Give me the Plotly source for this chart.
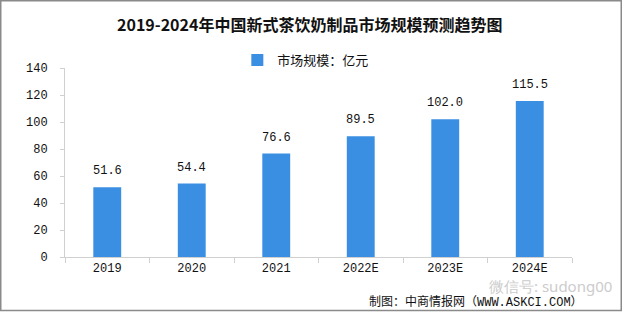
import plotly.graph_objects as go

categories = ["2019", "2020", "2021", "2022E", "2023E", "2024E"]
values = [51.6, 54.4, 76.6, 89.5, 102.0, 115.5]
value_labels = ["51.6", "54.4", "76.6", "89.5", "102.0", "115.5"]
series_name = "市场规模：亿元"
title_text = "2019-2024年中国新式茶饮奶制品市场规模预测趋势图"
source_text = "制图：中商情报网（WWW.ASKCI.COM）"
watermark_text = "微信号: sudong00"

W, H = 623, 313
L, R, T, B = 65, 51, 68, 56
BAR = "#3b8fe3"
FONT = "Liberation Mono, Noto Sans CJK SC, monospace"

fig = go.Figure()
fig.add_trace(go.Bar(
    x=categories, y=values, name=series_name,
    marker=dict(color=BAR, line=dict(width=0)),
    showlegend=True,
))

for i, (v, t) in enumerate(zip(values, value_labels)):
    fig.add_annotation(x=i, y=v, text=t, showarrow=False, yanchor="bottom",
                       yshift=7, font=dict(family=FONT, size=12, color="#111"))

pw, ph = W - L - R, H - T - B

fig.add_annotation(xref="paper", yref="paper", x=(309 - L) / pw, y=1, yshift=44,
                   xanchor="center", yanchor="middle",
                   text="<b>" + title_text + "</b>", showarrow=False,
                   font=dict(family="Noto Sans CJK SC, sans-serif", size=16, color="#111"))

fig.add_annotation(xref="paper", yref="paper", x=(476 - L) / pw, y=0, yshift=-45,
                   xanchor="center", yanchor="middle", text=source_text, showarrow=False,
                   font=dict(family=FONT, size=12, color="#111"))
fig.add_annotation(xref="paper", yref="paper", x=(550 - L) / pw, y=0, yshift=-29,
                   xanchor="center", yanchor="middle", text=watermark_text, showarrow=False,
                   font=dict(family="Noto Sans, sans-serif", size=15, color="#cccccc"))

fig.add_shape(type="rect", xref="paper", yref="paper",
              x0=(0.75 - L) / pw, x1=(W - 1.75 - L) / pw,
              y0=-(B - 2.5) / ph,
              y1=1 + (T - 0.75) / ph,
              line=dict(color="#8a8a8a", width=1.5), layer="below")

fig.update_layout(
    width=W, height=H,
    margin=dict(l=L, r=R, t=T, b=B),
    paper_bgcolor="white", plot_bgcolor="white",
    bargap=0.67,
    font=dict(family=FONT, size=12, color="#111"),
    legend=dict(orientation="h", x=0.475, y=1 + 8 / ph, yanchor="middle", xanchor="center",
                font=dict(family="Noto Sans CJK SC, sans-serif", size=13),
                bgcolor="rgba(0,0,0,0)", itemsizing="constant", itemwidth=30),
    xaxis=dict(type="category", range=[-0.5, len(categories) - 0.5], autorange=False,
               showgrid=False, showline=True, linecolor="#d0d0d0", linewidth=1,
               ticks="outside", tickson="boundaries", ticklen=5, tickcolor="#d0d0d0",
               tickangle=0,
               tickfont=dict(family=FONT, size=12, color="#111")),
    yaxis=dict(range=[0, 140], autorange=False, dtick=20, showgrid=False, showline=True,
               linecolor="#d0d0d0", linewidth=1, ticks="outside", ticklen=4,
               tickcolor="#d0d0d0", zeroline=False,
               tickfont=dict(family=FONT, size=12, color="#111"), ticklabelstandoff=10),
)

fig.write_html("out.html")
